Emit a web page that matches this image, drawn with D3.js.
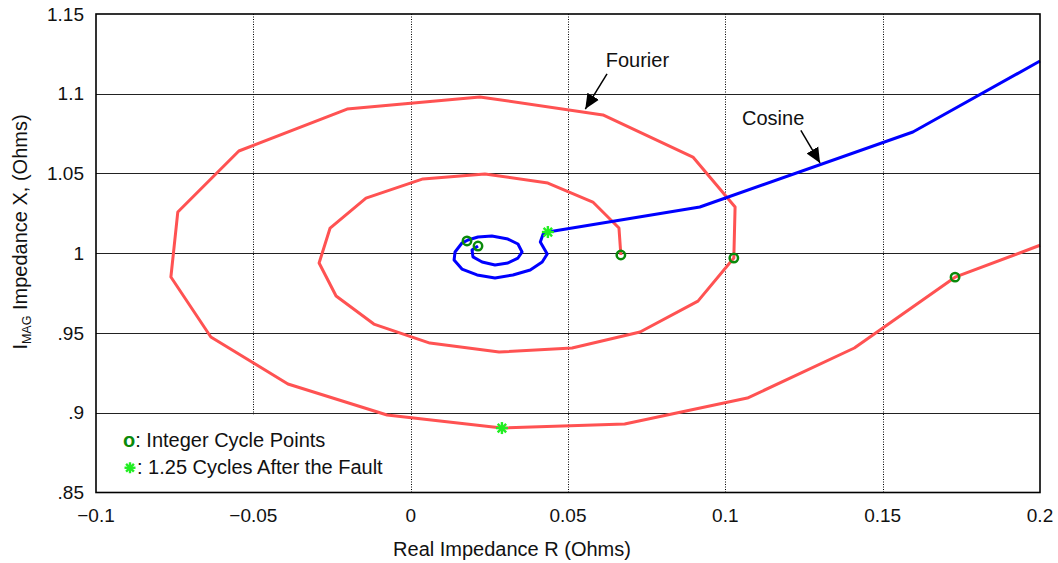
<!DOCTYPE html>
<html>
<head>
<meta charset="utf-8">
<script src="https://cdn.jsdelivr.net/npm/d3@7"></script>
<style>
  body { margin: 0; background: #fff; }
  svg { display: block; font-family: "Liberation Sans", Arial, sans-serif; }
</style>
</head>
<body>
<svg id="chart" width="1058" height="563"></svg>
<script>
// ---- Data ----
const xTicks = [-0.1, -0.05, 0, 0.05, 0.1, 0.15, 0.2];
const xTickLabels = ["\u22120.1", "\u22120.05", "0", "0.05", "0.1", "0.15", "0.2"];
const yTicks = [0.85, 0.9, 0.95, 1, 1.05, 1.1, 1.15];
const yTickLabels = [".85", ".9", ".95", "1", "1.05", "1.1", "1.15"];

// Fourier trajectory (R, X)
const fourierR = [0.200, 0.173, 0.141, 0.107, 0.068, 0.029, -0.0075, -0.039, -0.0635, -0.0762, -0.074, -0.0546, -0.0202, 0.022, 0.0611, 0.0897, 0.1031, 0.1027, 0.0913, 0.0729, 0.0513, 0.0281, 0.0061, -0.0117, -0.0237, -0.0291, -0.0256, -0.0142, 0.0039, 0.0236, 0.0436, 0.0579, 0.0662, 0.0668];
const fourierX = [1.005, 0.985, 0.9406, 0.9092, 0.8929, 0.8904, 0.8986, 0.918, 0.9475, 0.9851, 1.0259, 1.0641, 1.0904, 1.098, 1.0867, 1.0603, 1.029, 0.997, 0.970, 0.9506, 0.9406, 0.9381, 0.9437, 0.9556, 0.9732, 0.9939, 1.0158, 1.0346, 1.0466, 1.0497, 1.044, 1.0321, 1.0158, 0.9989];

// Cosine trajectory (R, X)
const cosineR = [0.200, 0.1596, 0.0919, 0.0436, 0.0421, 0.0412, 0.0434, 0.0418, 0.0380, 0.0325, 0.0268, 0.0211, 0.0163, 0.0138, 0.0141, 0.0163, 0.0182, 0.0214, 0.0258, 0.0309, 0.0341, 0.0354, 0.0341, 0.0309, 0.0268, 0.0227, 0.0198, 0.0195, 0.0214];
const cosineX = [1.1205, 1.076, 1.029, 1.0133, 1.012, 1.007, 0.9995, 0.9945, 0.9895, 0.9864, 0.9845, 0.9864, 0.9901, 0.9958, 1.0008, 1.0064, 1.0083, 1.0102, 1.0108, 1.0089, 1.0058, 1.0008, 0.997, 0.9939, 0.9926, 0.9945, 0.9977, 1.002, 1.0045];

// Integer cycle points
const cycleR = [0.173, 0.1027, 0.0668, 0.0179, 0.0214];
const cycleX = [0.985, 0.997, 0.9989, 1.0077, 1.0045];

// 1.25 cycles after the fault
const starR = [0.029, 0.0436];
const starX = [0.8904, 1.0133];

// Annotations
const annLabels = ["Fourier", "Cosine"];
const annTextR = [0.0620, 0.1053];
const annTextX = [1.1165, 1.0805];
const annFromR = [0.0624, 0.1240];
const annFromX = [1.1125, 1.0770];
const annToR = [0.0555, 0.1301];
const annToX = [1.0904, 1.0566];

// ---- Layout ----
const svg = d3.select("#chart");
const margin = { left: 96, top: 14, right: 18, bottom: 70.5 };
const W = 1058, H = 563;
const pw = W - margin.left - margin.right;
const ph = H - margin.top - margin.bottom;

const x = d3.scaleLinear().domain([-0.1, 0.2]).range([margin.left, margin.left + pw]);
const y = d3.scaleLinear().domain([0.85, 1.15]).range([margin.top + ph, margin.top]);

const defs = svg.append("defs");
defs.append("marker")
  .attr("id", "arrow").attr("viewBox", "0 0 10 10")
  .attr("refX", 10).attr("refY", 5)
  .attr("markerWidth", 15).attr("markerHeight", 15)
  .attr("markerUnits", "userSpaceOnUse")
  .attr("orient", "auto")
  .append("path").attr("d", "M0,0.5 L10,5 L0,9.5 Z").attr("fill", "#000");

// Grid
const g = svg.append("g");
g.selectAll("line.hg").data(yTicks.slice(1, -1)).join("line")
  .attr("x1", margin.left).attr("x2", margin.left + pw)
  .attr("y1", d => Math.round(y(d)) + 0.5).attr("y2", d => Math.round(y(d)) + 0.5)
  .attr("stroke", "#222").attr("stroke-width", 1);
g.selectAll("line.vg").data(xTicks.slice(1, -1)).join("line")
  .attr("y1", margin.top).attr("y2", margin.top + ph)
  .attr("x1", d => Math.round(x(d)) + 0.5).attr("x2", d => Math.round(x(d)) + 0.5)
  .attr("stroke", "#000").attr("stroke-width", 1).attr("stroke-dasharray", "1,1.5");

// Legend background
svg.append("rect")
  .attr("x", margin.left).attr("y", y(0.9) + 1.5)
  .attr("width", 306).attr("height", margin.top + ph - y(0.9) - 1.5)
  .attr("fill", "#fff");

// Curves
const line = d3.line().x(d => x(d[0])).y(d => y(d[1]));
const fourierPts = fourierR.map((r, i) => [r, fourierX[i]]);
const cosinePts = cosineR.map((r, i) => [r, cosineX[i]]);

svg.append("path").datum(fourierPts).attr("d", line)
  .attr("fill", "none").attr("stroke", "#ff5252").attr("stroke-width", 3).attr("stroke-linejoin", "round");
svg.append("path").datum(cosinePts).attr("d", line)
  .attr("fill", "none").attr("stroke", "#0000ff").attr("stroke-width", 3).attr("stroke-linejoin", "round");

// Circle markers
svg.selectAll("circle.cyc").data(cycleR.map((r, i) => [r, cycleX[i]])).join("circle")
  .attr("cx", d => x(d[0])).attr("cy", d => y(d[1])).attr("r", 4.2)
  .attr("fill", "none").attr("stroke", "#0a8a0a").attr("stroke-width", 2.5);

// Star markers
function star(sel, cx, cy, r) {
  const gs = sel.append("g").attr("transform", `translate(${cx},${cy})`);
  [0, 45, 90, 135].forEach(a => {
    const rad = a * Math.PI / 180;
    gs.append("line")
      .attr("x1", -r * Math.cos(rad)).attr("y1", -r * Math.sin(rad))
      .attr("x2", r * Math.cos(rad)).attr("y2", r * Math.sin(rad))
      .attr("stroke", "#22ee22").attr("stroke-width", 2.4);
  });
}
starR.forEach((r, i) => star(svg, x(r), y(starX[i]), 6));

// Frame
svg.append("rect")
  .attr("x", margin.left).attr("y", margin.top).attr("width", pw).attr("height", ph)
  .attr("fill", "none").attr("stroke", "#000").attr("stroke-width", 1.6);

// Tick labels
svg.selectAll("text.xt").data(xTicks).join("text")
  .attr("x", d => x(d)).attr("y", margin.top + ph + 29)
  .attr("text-anchor", "middle").attr("font-size", 19).attr("fill", "#111")
  .text((d, i) => xTickLabels[i]);
svg.selectAll("text.yt").data(yTicks).join("text")
  .attr("x", margin.left - 12).attr("y", d => y(d) + 6.5)
  .attr("text-anchor", "end").attr("font-size", 19).attr("fill", "#111")
  .text((d, i) => yTickLabels[i]);

// Axis titles
svg.append("text")
  .attr("x", 512).attr("y", 556)
  .attr("text-anchor", "middle").attr("font-size", 20).attr("fill", "#111")
  .text("Real Impedance R (Ohms)");
const yt = svg.append("text")
  .attr("transform", `translate(27,232) rotate(-90)`)
  .attr("text-anchor", "middle").attr("font-size", 20).attr("fill", "#111");
yt.append("tspan").text("I");
yt.append("tspan").attr("font-size", 12.5).attr("dy", 4).text("MAG");
yt.append("tspan").attr("dy", -4).text(" Impedance X, (Ohms)");

// Legend
const lg = svg.append("g");
lg.append("text").attr("x", 123).attr("y", y(0.9) + 34).attr("font-size", 20).attr("fill", "#111")
  .call(t => {
    t.append("tspan").attr("fill", "#0a8a0a").attr("font-weight", "bold").text("o");
    t.append("tspan").text(": Integer Cycle Points");
  });
star(lg, 130, y(0.9) + 55, 5.5);
lg.append("text").attr("x", 137).attr("y", y(0.9) + 61).attr("font-size", 20).attr("fill", "#111")
  .text(": 1.25 Cycles After the Fault");

// Annotations
annLabels.forEach((lab, i) => {
  svg.append("text").attr("x", x(annTextR[i])).attr("y", y(annTextX[i]))
    .attr("font-size", 20).attr("fill", "#111").text(lab);
  svg.append("line")
    .attr("x1", x(annFromR[i])).attr("y1", y(annFromX[i]))
    .attr("x2", x(annToR[i])).attr("y2", y(annToX[i]))
    .attr("stroke", "#000").attr("stroke-width", 1.5).attr("marker-end", "url(#arrow)");
});
</script>
</body>
</html>
